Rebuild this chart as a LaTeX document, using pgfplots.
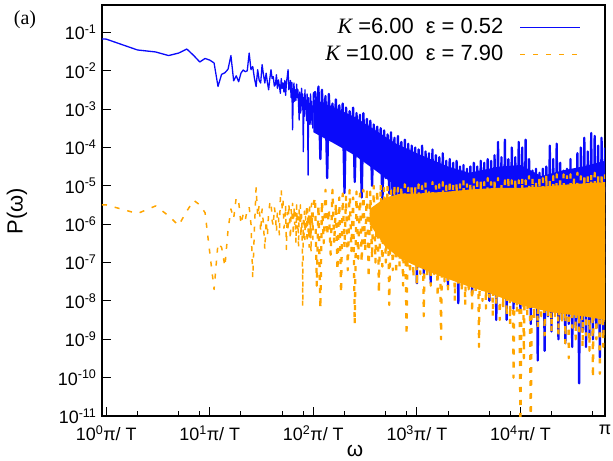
\documentclass[border=0pt]{standalone}
\usepackage{fontspec}
\setmainfont{Liberation Sans}
\newfontfamily\serifit{Liberation Serif}
\usepackage{pgfplots}
\usepackage{pgfplotstable}
\pgfplotsset{compat=1.18}
\definecolor{kblue}{RGB}{10,10,250}
\definecolor{korange}{RGB}{255,165,0}

% K = 6.00, eps = 0.52 (low frequencies)
\pgfplotstableread{
x y
0.91 0.068
1 0.067
2 0.035
3 0.031
4 0.025
5 0.029
6 0.037
7 0.025
8 0.017
9 0.021
10 0.019
11 0.016
12 0.0039
13 0.0081
14 0.0089
15 0.011
16 0.025
17 0.0055
18 0.0074
19 0.0052
20 0.0087
21 0.0105
22 0.0095
23 0.0100
24 0.029
25 0.0107
26 0.0129
27 0.0063
28 0.0039
29 0.0107
30 0.0056
31 0.0048
32 0.0145
33 0.0079
34 0.0048
35 0.0087
36 0.0050
37 0.0032
38 0.0063
39 0.0107
40 0.0063
41 0.0071
42 0.0040
43 0.0043
44 0.0079
45 0.0035
46 0.0058
47 0.0040
48 0.0026
49 0.0063
50 0.0035
51 0.0048
52 0.0028
53 0.0056
54 0.0023
55 0.0050
56 0.0071
57 0.0107
58 0.0032
59 0.0039
60 0.0056
61 0.0020
62 0.0050
63 0.00029
64 0.0025
65 0.0048
66 0.0016
67 0.0032
68 0.0017
69 0.0045
70 0.0020
71 0.0032
72 0.0013
73 0.00052
74 0.0028
75 0.00079
76 0.00095
77 0.0035
78 0.0013
79 0.0025
80 0.000078
81 0.0020
82 0.00065
83 0.0032
84 0.0010
85 0.0017
86 0.0005
87 0.0025
88 0.00079
89 0.000019
90 0.0020
91 0.00063
92 0.0014
93 0.0004
94 0.0025
95 0.00065
96 0.0016
97 0.0004
98 0.0012
99 0.00032
100 0.0025
}\bluelow

% K = 6.00, eps = 0.52 (high frequencies)
\pgfplotstableread{
x y
100 0.0025
104 0.0028
108 0.0004
112 0.0039
117 5.0e-5
121 0.0032
126 0.00032
131 0.0022
136 1.6e-5
141 0.0025
147 0.00025
153 0.0014
159 0.0002
165 0.0018
171 0.000126
178 0.00126
185 0.00018
192 0.0014
200 6.5e-6
207 0.0011
215 0.000126
224 0.00089
233 7.9e-5
242 0.0011
251 1.26e-5
261 0.00079
271 7.9e-5
282 0.00071
293 5.0e-6
304 0.00079
316 5.0e-5
329 0.00056
342 4.0e-5
355 0.0005
369 1.0e-5
383 0.0004
398 3.2e-5
414 0.00035
430 2.5e-5
447 0.00032
464 3.2e-6
482 0.00028
501 1.6e-5
521 0.00022
541 6.3e-6
562 0.00025
584 4.0e-6
607 0.00018
631 3.2e-6
656 0.0002
681 2.5e-6
708 0.00014
736 1.6e-6
765 0.00016
794 1.0e-6
825 0.000126
858 6.3e-7
891 0.000112
926 1.0e-6
962 1.0e-4
1000 2.9e-8
1039 8.9e-5
1080 3.2e-7
1122 0.000112
1166 5.0e-8
1212 7.9e-5
1259 1.0e-6
1308 7.1e-5
1359 2.9e-8
1413 8.9e-5
1468 1.6e-7
1525 6.3e-5
1585 6.3e-7
1647 5.6e-5
1711 7.9e-8
1778 7.1e-5
1848 2.5e-7
1920 4.5e-5
1995 2.5e-8
2073 5.0e-5
2154 1.26e-7
2239 4.0e-5
2326 1.0e-7
2417 4.5e-5
2512 8.7e-9
2610 3.2e-5
2712 6.3e-8
2818 3.5e-5
2929 3.2e-8
3043 2.8e-5
3162 1.0e-7
3286 3.2e-5
3415 1.6e-8
3548 4.0e-5
3687 6.3e-8
3831 3.2e-5
3981 4.0e-8
4137 4.5e-5
4299 2.0e-8
4467 4.0e-5
4642 5.0e-8
4823 5.0e-5
5012 1.0e-8
5208 4.5e-5
5412 3.2e-8
5623 6.3e-5
5843 3.2e-9
6072 0.00014
6310 2.5e-8
6557 5.6e-5
6813 1.26e-8
7080 0.00016
7357 3.2e-9
7645 5.0e-5
7943 1.6e-8
8254 1.0e-4
8577 6.3e-9
8913 5.6e-5
9261 1.26e-8
9623 0.00014
10000 5.0e-9
10391 1.0e-4
10798 1.0e-8
11220 0.00016
11659 2.5e-8
12115 5.0e-5
12589 2.5e-9
13082 2.5e-5
13594 1.0e-8
14125 2.8e-5
14678 2.8e-10
15252 2.2e-5
15849 6.3e-9
16469 2.8e-5
17113 5.0e-10
17783 3.2e-5
18478 4.0e-9
19201 0.000112
19953 1.6e-9
20734 5.0e-5
21544 5.0e-9
22387 0.000126
23263 1.0e-9
24174 4.0e-5
25119 3.2e-9
26102 2.5e-5
27123 7.9e-10
28184 2.8e-5
29286 2.5e-9
30432 5.0e-5
31623 6.3e-10
32860 2.5e-5
34145 2.0e-9
35481 7.1e-5
36869 7.1e-11
38311 1.0e-4
39811 1.6e-9
41369 0.00018
42988 6.3e-10
44668 7.9e-5
46416 1.26e-9
48232 0.00024
50119 1.0e-9
52081 0.0002
54117 2.0e-9
56234 0.000112
58434 3.4e-10
60723 0.00018
63096 1.26e-9
65536 1.0e-4
}\bluehigh

% saturated body of the K = 6.00 spectrum (upper edge, then lower edge)
\pgfplotstableread{
x y
100 1.8e-3
160 1.1e-3
250 6.3e-4
400 2.8e-4
630 1.26e-4
1000 7.1e-5
2000 3.2e-5
3200 2.2e-5
6300 3.2e-5
10000 3.5e-5
16000 1.8e-5
25000 2.5e-5
40000 3.2e-5
65536 4.5e-5
65536 6.3e-6
10000 6.3e-6
1000 6.3e-6
630 1.0e-5
400 2.5e-5
250 6.3e-5
160 1.26e-4
100 2.5e-4
}\bluecore

% K = 10.00, eps = 7.90 (low frequencies)
\pgfplotstableread{
x y
0.91 3.2e-6
1 3.2e-6
2 1.9e-6
3 3.0e-6
4 1.66e-6
5 9.3e-7
6 2.2e-6
7 4.2e-6
8 3.2e-6
9 2.0e-6
10 1.8e-7
11 2.0e-8
12 3.2e-7
13 2.5e-7
14 7.9e-8
15 7.1e-7
16 2.5e-6
17 1.4e-6
18 5.0e-6
19 4.0e-6
20 1.0e-6
21 1.8e-6
22 1.26e-6
23 2.5e-6
24 2.8e-6
25 1.0e-6
26 4.0e-8
27 7.9e-7
28 8.9e-6
29 1.6e-6
30 3.2e-6
31 6.3e-7
32 2.5e-6
33 1.0e-6
34 2.2e-7
35 1.26e-6
36 5.0e-7
37 2.0e-6
38 3.5e-6
39 4.0e-6
40 1.26e-6
41 8.9e-7
42 2.8e-6
43 1.8e-6
44 6.3e-7
45 2.2e-6
46 1.6e-6
47 5.0e-7
48 5.0e-6
49 7.9e-6
50 2.5e-6
51 4.0e-6
52 7.9e-7
53 1.1e-6
54 3.2e-6
55 2.2e-7
56 2.0e-6
57 6.3e-7
58 3.5e-6
59 1.4e-6
60 4.0e-7
61 2.5e-6
62 1.26e-6
63 3.5e-6
64 5.0e-7
65 2.8e-6
66 1.0e-6
67 2.0e-6
68 3.2e-7
69 3.2e-6
70 7.9e-7
71 1.6e-6
72 2.5e-7
73 2.5e-6
74 1.0e-6
75 3.2e-6
76 4.5e-7
77 1.8e-6
78 6.3e-7
79 7.1e-9
80 1.26e-6
81 3.5e-7
82 2.2e-6
83 4.0e-7
84 1.6e-6
85 7.9e-7
86 3.2e-6
87 3.2e-7
88 2.5e-6
89 6.3e-7
90 2.0e-6
91 2.5e-7
92 2.8e-6
93 5.0e-7
94 1.4e-6
95 1.8e-7
96 3.5e-6
97 1.0e-6
98 1.6e-6
99 4.0e-7
100 3.2e-6
}\orangelow

% K = 10.00, eps = 7.90 (high frequencies)
\pgfplotstableread{
x y
100 3.2e-6
104 5.0e-6
108 2.5e-8
112 3.2e-6
117 6.3e-9
121 4.0e-6
126 3.2e-7
131 7.9e-6
136 5.0e-7
141 2.5e-6
147 1.6e-7
153 7.9e-6
159 3.2e-7
165 3.5e-6
171 6.3e-8
178 5.0e-6
185 1.6e-8
192 6.3e-6
200 2.5e-7
207 5.6e-6
215 6.3e-8
224 7.9e-6
233 2.0e-7
242 5.0e-6
251 2.5e-9
261 7.1e-6
271 1.26e-7
282 6.3e-6
293 1.0e-7
304 7.9e-6
316 2.0e-7
329 8.9e-6
342 4.0e-8
355 7.1e-6
369 1.26e-7
383 1.0e-5
398 1.0e-7
414 7.9e-6
430 1.6e-8
447 1.1e-5
464 7.9e-8
482 8.9e-6
501 1.0e-7
521 1.0e-5
541 7.9e-9
562 7.9e-6
584 6.3e-8
607 1.1e-5
631 5.0e-8
656 8.9e-6
681 7.9e-8
708 1.0e-5
736 2.5e-8
765 1.1e-5
794 1.26e-9
825 8.9e-6
858 5.0e-8
891 1.1e-5
926 4.0e-8
962 1.0e-5
1000 2.5e-8
1039 1.1e-5
1080 5.0e-8
1122 1.0e-5
1166 4.0e-9
1212 1.26e-5
1259 4.0e-8
1308 8.9e-6
1359 2.5e-8
1413 1.26e-5
1468 5.0e-8
1525 1.0e-5
1585 1.26e-8
1647 1.1e-5
1711 1.0e-9
1778 1.26e-5
1848 3.2e-8
1920 1.0e-5
1995 2.0e-8
2073 1.4e-5
2154 4.0e-8
2239 1.1e-5
2326 1.0e-8
2417 1.26e-5
2512 2.5e-8
2610 1.1e-5
2712 1.6e-8
2818 1.4e-5
2929 7.9e-9
3043 1.1e-5
3162 2.0e-8
3286 1.26e-5
3415 5.0e-9
3548 1.6e-5
3687 1.6e-8
3831 1.26e-5
3981 6.3e-10
4137 1.4e-5
4299 1.0e-8
4467 1.26e-5
4642 6.3e-9
4823 1.6e-5
5012 1.26e-8
5208 1.26e-5
5412 4.0e-9
5623 1.4e-5
5843 7.9e-9
6072 1.6e-5
6310 3.2e-9
6557 1.26e-5
6813 6.3e-9
7080 1.4e-5
7357 4.0e-9
7645 1.8e-5
7943 2.5e-9
8254 1.4e-5
8577 1.0e-10
8913 1.6e-5
9261 5.0e-9
9623 1.4e-5
10000 3.2e-12
10391 1.6e-5
10798 3.2e-10
11220 1.4e-5
11659 4.0e-9
12115 1.8e-5
12589 3.2e-12
13082 1.6e-5
13594 3.2e-9
14125 1.4e-5
14678 2.0e-9
15252 1.8e-5
15849 4.0e-9
16469 1.6e-5
17113 1.26e-9
17783 2.0e-5
18478 3.2e-9
19201 1.6e-5
19953 1.6e-9
20734 1.8e-5
21544 4.0e-9
22387 2.0e-5
23263 1.26e-9
24174 1.6e-5
25119 2.5e-9
26102 2.0e-5
27123 7.9e-10
28184 1.8e-5
29286 3.2e-10
30432 2.0e-5
31623 2.0e-9
32860 1.8e-5
34145 1.0e-9
35481 2.2e-5
36869 1.6e-9
38311 1.8e-5
39811 6.3e-10
41369 2.0e-5
42988 1.26e-9
44668 2.2e-5
46416 5.0e-10
48232 2.0e-5
50119 1.0e-10
52081 2.2e-5
54117 1.0e-9
56234 2.0e-5
58434 1.26e-10
60723 2.2e-5
63096 6.3e-10
65536 2.0e-5
}\orangehigh

% saturated core of the K = 10.00 spectrum (upper edge, then lower edge)
\pgfplotstableread{
x y
350 2.5e-6
500 5.0e-6
700 6.3e-6
1000 6.3e-6
2000 7.1e-6
3000 7.9e-6
6000 8.9e-6
10000 8.9e-6
20000 1.0e-5
30000 1.1e-5
65536 1.26e-5
65536 3.2e-9
40000 4.0e-9
20000 5.0e-9
10000 7.9e-9
5000 1.6e-8
3000 2.5e-8
1500 5.0e-8
1000 7.9e-8
700 1.26e-7
500 2.5e-7
350 1.0e-6
}\orangecore

\begin{document}
\begin{tikzpicture}[font=\fontsize{18}{20}\selectfont]
\useasboundingbox (-102bp,-45bp) rectangle (511bp,416bp);
\begin{axis}[
  at={(0,0)}, anchor=south west,
  scale only axis, width=503bp, height=411bp,
  xmode=log, ymode=log,
  xmin=0.91, xmax=65536, ymin=1e-11, ymax=0.52,
  xtick={1,10,100,1000,10000,65536},
  xticklabels={10\textsuperscript{0}π/ T, 10\textsuperscript{1}π/ T, 10\textsuperscript{2}π/ T, 10\textsuperscript{3}π/ T, 10\textsuperscript{4}π/ T, π},
  minor xtick={2,5,8,20,50,80,200,500,800,2000,5000,8000,20000,50000},
  ytick={1e-11,1e-10,1e-9,1e-8,1e-7,1e-6,1e-5,1e-4,1e-3,1e-2,1e-1},
  yticklabels={10\textsuperscript{-11}, 10\textsuperscript{-10}, 10\textsuperscript{-9}, 10\textsuperscript{-8}, 10\textsuperscript{-7}, 10\textsuperscript{-6}, 10\textsuperscript{-5}, 10\textsuperscript{-4}, 10\textsuperscript{-3}, 10\textsuperscript{-2}, 10\textsuperscript{-1}},
  yminorticks=false,
  xtick pos=left, ytick pos=left,
  tick align=inside,
  major tick length=9bp, minor tick length=5bp,
  tick style={black, line width=1bp},
  axis line style={line width=1.2bp},
  xticklabel style={yshift=-6bp},
  yticklabel style={xshift=-2bp},
  legend plot pos=right,
  legend cell align=right,
  legend style={draw=none, fill=none, inner sep=0pt,
    at={(rel axis cs:1,1)}, anchor=north east, xshift=-24bp, yshift=-12bp,
    font=\fontsize{22}{24}\selectfont, row sep=6bp, column sep=16bp,
    nodes={inner sep=0pt, text height=16bp, text depth=5bp}},
  legend image code/.code={\draw[#1] (0bp,0bp) -- (60bp,0bp);},
]
\addplot[kblue, line width=1.3bp, line join=round] table {\bluelow};
\addlegendentry{{\serifit\itshape K} =6.00\ \ ε = 0.52}
\addplot[fill=kblue, draw=none, forget plot] table {\bluecore} -- cycle;
\addplot[kblue, line width=2.3bp, line join=round, forget plot] table {\bluehigh};
\addplot[fill=korange, draw=none, forget plot] table {\orangecore} -- cycle;
\addplot[korange, line width=1.5bp, line join=round, dash pattern=on 5bp off 8bp] table {\orangelow};
\addlegendentry{{\serifit\itshape K} =10.00\ \ ε = 7.90}
\addplot[korange, line width=2.3bp, line join=round, dash pattern=on 5bp off 8bp, forget plot] table {\orangehigh};
\end{axis}
\node[rotate=90, inner sep=0pt, font=\fontsize{22}{24}\selectfont] at (-85bp,205bp) {P(ω)};
\node[inner sep=0pt, font=\fontsize{21}{23}\selectfont] at (253bp,-35bp) {ω};
\node[inner sep=0pt, font=\serifit\fontsize{20}{22}\selectfont] at (-77bp,396bp) {(a)};
\end{tikzpicture}
\end{document}
